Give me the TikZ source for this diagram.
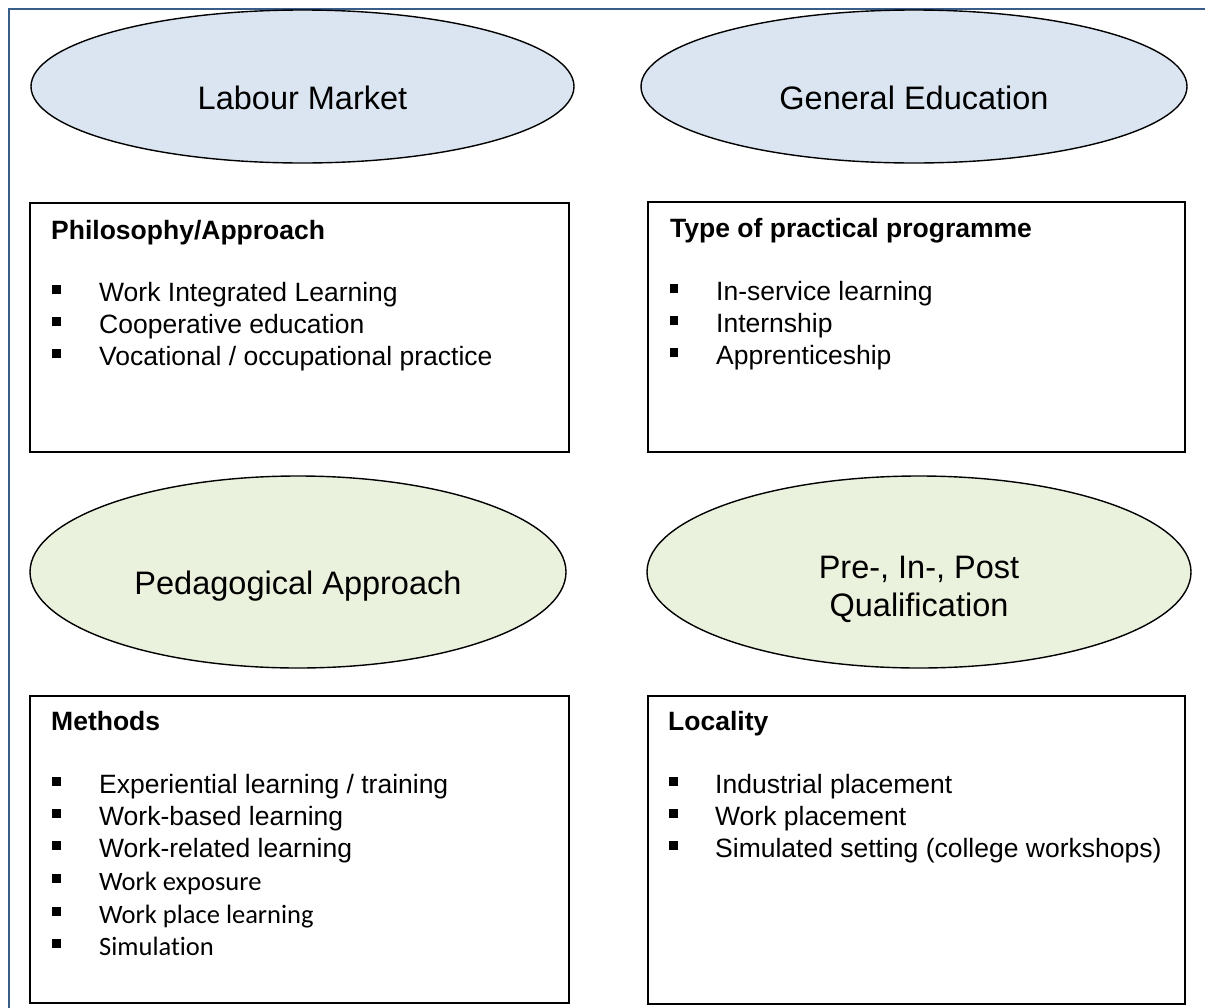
\documentclass[tikz,border=0pt]{standalone}
\usepackage{fontspec}
\setmainfont{Liberation Sans}
\newfontfamily\calfont[Ligatures=NoCommon]{Carlito}
\usetikzlibrary{shapes.geometric}
\definecolor{framecol}{HTML}{385D8A}
\definecolor{blueell}{HTML}{DBE5F1}
\definecolor{greenell}{HTML}{EAF1DD}
\begin{document}
\begin{tikzpicture}[x=1pt,y=-1pt,
  ell/.style={ellipse, draw=black, line width=1.4pt, inner sep=0pt},
  elltext/.style={anchor=base, inner sep=0pt, font=\fontsize{32.5}{38}\selectfont},
  panel/.style={draw=black, line width=2pt, anchor=north west, inner sep=0pt},
  ttl/.style={anchor=base west, inner sep=0pt, font=\fontsize{26.5}{30}\selectfont\bfseries},
  itm/.style={anchor=base west, inner sep=0pt, font=\fontsize{26.5}{30}\selectfont},
  citm/.style={anchor=base west, inner sep=0pt, font=\fontsize{26.5}{30}\selectfont\calfont},
  bul/.style={fill=black, inner sep=0pt, minimum size=8.5pt, anchor=center},
]
\useasboundingbox (0,0) rectangle (1205,1007);
\clip (0,0) rectangle (1205,1007);
\fill[white] (0,0) rectangle (1205,1007);
% outer frame
\draw[framecol, line width=2pt] (9,1020) -- (9,9) -- (1220,9);

% top ellipses
\node[ell, fill=blueell, minimum width=543pt, minimum height=153pt] (e1) at (302.5,86.5) {};
\node[elltext] (t1) at (302.5,109) {Labour Market};
\node[ell, fill=blueell, minimum width=546pt, minimum height=153pt] (e2) at (914,86.5) {};
\node[elltext] (t2) at (914,109) {General Education};

% top boxes
\node[panel, minimum width=539pt, minimum height=249pt] (b1) at (29,202) {};
\node[ttl] (b1t) at (51,239) {Philosophy/Approach};
\foreach \y/\txt [count=\i] in {301/{Work Integrated Learning}, 333/{Cooperative education}, 365/{Vocational / occupational practice}}{
  \node[bul] (b1b\i) at (56.5,\y-11.7) {};
  \node[itm] (b1i\i) at (99,\y) {\txt};
}

\node[panel, minimum width=537pt, minimum height=250pt] (b2) at (647,201) {};
\node[ttl] (b2t) at (670,237) {Type of practical programme};
\foreach \y/\txt [count=\i] in {300/{In-service learning}, 332/{Internship}, 364/{Apprenticeship}}{
  \node[bul] (b2b\i) at (674,\y-11.7) {};
  \node[itm] (b2i\i) at (716,\y) {\txt};
}

% bottom ellipses
\node[ell, fill=greenell, minimum width=536pt, minimum height=192pt] (e3) at (298,572) {};
\node[elltext] (t3) at (298,594) {Pedagogical Approach};
\node[ell, fill=greenell, minimum width=544pt, minimum height=192pt] (e4) at (919,572) {};
\node[elltext] (t4a) at (919,578) {Pre-, In-, Post};
\node[elltext] (t4b) at (919,616) {Qualification};

% bottom boxes
\node[panel, minimum width=539pt, minimum height=307pt] (b3) at (29,695) {};
\node[ttl] (b3t) at (51,730) {Methods};
\foreach \y/\txt [count=\i] in {793/{Experiential learning / training}, 825/{Work-based learning}, 857/{Work-related learning}}{
  \node[bul] (b3b\i) at (56.5,\y-11.7) {};
  \node[itm] (b3i\i) at (99,\y) {\txt};
}
\foreach \y/\txt [count=\i from 4] in {890/{Work exposure}, 923/{Work place learning}, 955/{Simulation}}{
  \node[bul] (b3b\i) at (56.5,\y-11.7) {};
  \node[citm] (b3i\i) at (99,\y) {\txt};
}

\node[panel, minimum width=537pt, minimum height=308pt] (b4) at (647,695) {};
\node[ttl] (b4t) at (668,730) {Locality};
\foreach \y/\txt [count=\i] in {793/{Industrial placement}, 825/{Work placement}, 857/{Simulated setting (college workshops)}}{
  \node[bul] (b4b\i) at (673.5,\y-11.7) {};
  \node[itm] (b4i\i) at (715,\y) {\txt};
}
\end{tikzpicture}
\end{document}
